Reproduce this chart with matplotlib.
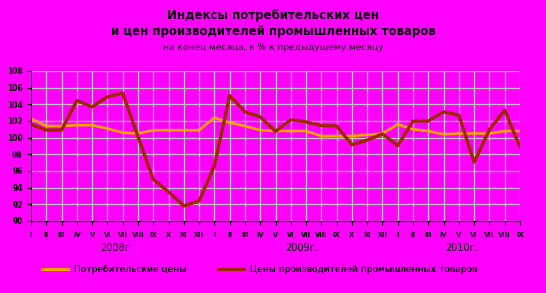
import matplotlib
matplotlib.use("Agg")
import matplotlib.pyplot as plt
import numpy as np

months = ["I", "II", "III", "IV", "V", "VI", "VII", "VIII", "IX", "X", "XI", "XII"]
tick_labels = months + months + months[:9]
years = ["2008г.", "2009г.", "2010г."]

cpi = [102.3, 101.4, 101.4, 101.5, 101.5, 101.1, 100.6, 100.5, 100.9, 100.9, 100.9, 100.9,
       102.4, 101.8, 101.4, 100.9, 100.8, 100.8, 100.8, 100.2, 100.2, 100.2, 100.35, 100.5,
       101.6, 101.0, 100.8, 100.4, 100.5, 100.5, 100.5, 100.8, 100.8]
ppi = [101.6, 100.9, 100.9, 104.45, 103.7, 104.9, 105.35, 100.15, 95.0, 93.5, 91.8, 92.4,
       96.6, 105.05, 103.1, 102.5, 100.75, 102.15, 101.9, 101.45, 101.4, 99.15, 99.7, 100.45,
       99.05, 102.0, 102.0, 103.1, 102.7, 97.05, 100.95, 103.3, 98.85]

series_names = ["Потребительские цены", "Цены производителей промышленных товаров"]

bg = "#FF00FF"
fig = plt.figure(figsize=(5.46, 2.93), dpi=100, facecolor=bg)
ax = fig.add_axes([31/546, 1-221/293, (520-31)/546, (221-71)/293])
ax.set_facecolor(bg)

x = np.arange(len(cpi))
l1, = ax.plot(x, cpi, color="#FFA500", lw=1.9)
l2, = ax.plot(x, ppi, color="#9E2800", lw=2.4)

ax.set_xlim(0, len(cpi)-1)
ax.set_ylim(90, 108)
ax.set_yticks(np.arange(90, 109, 2))
ax.set_yticklabels([str(v) for v in range(90, 109, 2)], fontsize=5.5, fontweight="bold")
ax.set_xticks(x)
ax.set_xticklabels(tick_labels, fontsize=4.8, fontweight="bold")
ax.grid(True, color="#C0C0C0", lw=0.9)
ax.set_axisbelow(True)
for s in ["top", "right"]:
    ax.spines[s].set_visible(False)
ax.spines["left"].set_color("black")
ax.spines["bottom"].set_color("black")
ax.tick_params(axis="x", length=3, width=0.8, pad=5)
ax.tick_params(axis="y", length=3, width=0.8, pad=3)

# year labels
for i, yl in enumerate(years):
    pos = [5.6, 17.7, 28.2][i]
    ax.text(pos, -0.18, yl, transform=ax.get_xaxis_transform(), ha="center", va="center", fontsize=7)

fig.text(0.5, 1-15/293, "Индексы потребительских цен", ha="center", va="center", fontsize=8.5, fontweight="bold")
fig.text(0.5, 1-32/293, "и цен производителей промышленных товаров", ha="center", va="center", fontsize=8.5, fontweight="bold")
fig.text(0.5, 1-48/293, "на конец месяца, в % к предыдущему месяцу", ha="center", va="center", fontsize=6.5)

for handle, name, x0 in [(l1, series_names[0], 42/546), (l2, series_names[1], 218/546)]:
    leg = fig.legend([handle], [name], loc="center left", bbox_to_anchor=(x0, 1-270/293),
                     frameon=False, fontsize=6.5, handlelength=2.9, handletextpad=0.6,
                     borderpad=0, borderaxespad=0)
    leg.legend_handles[0].set_linewidth(2.2)
    fig.add_artist(leg)

fig.savefig("out.png", dpi=100, facecolor=bg)
